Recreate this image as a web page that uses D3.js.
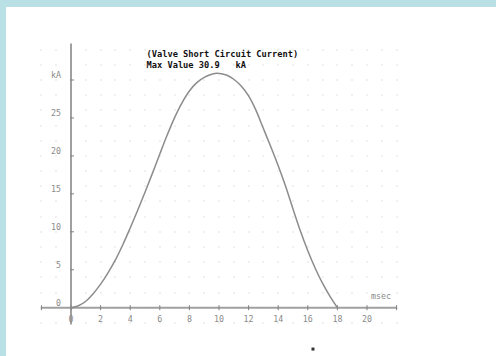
<!DOCTYPE html>
<html>
<head>
<meta charset="utf-8">
<script src="https://cdn.jsdelivr.net/npm/d3@7"></script>
<style>
  body { margin: 0; background: #fff; }
  .tick-text { font-family: "DejaVu Sans Mono", monospace; font-size: 8.3px; fill: #8a8a8a; }
  .title-text { font-family: "DejaVu Sans Mono", monospace; font-size: 8.7px; font-weight: bold; fill: #111; white-space: pre; }
</style>
</head>
<body>
<svg id="chart" width="496" height="356"></svg>
<script>
// current waveform, time in msec, current in kA
var timeMs = [0, 0.5, 1, 1.5, 2, 2.5, 3, 3.5, 4, 4.5, 5, 5.5, 6, 6.5, 7, 7.5, 8, 8.5, 9, 9.5, 9.85, 10.5, 11, 11.5, 12, 12.5, 13, 13.5, 14, 14.5, 15, 15.5, 16, 16.5, 17, 17.5, 18];
var currentKA = [0, 0.25, 0.85, 1.85, 3.1, 4.6, 6.3, 8.3, 10.5, 12.8, 15.2, 17.7, 20.25, 22.75, 25.05, 27.0, 28.55, 29.65, 30.35, 30.75, 30.9, 30.65, 30.1, 29.2, 27.9, 26.0, 23.6, 21.2, 18.7, 16.0, 13.0, 10.1, 7.5, 5.2, 3.2, 1.5, 0];

var xTickValues = [0, 2, 4, 6, 8, 10, 12, 14, 16, 18, 20];
var yTickValues = [0, 5, 10, 15, 20, 25];
var titleLines = ["(Valve Short Circuit Current)", "Max Value 30.9   kA"];

var svg = d3.select('#chart');

// light blue frame on top and left
svg.append('rect').attr('x', 0).attr('y', 0).attr('width', 496).attr('height', 7).attr('fill', '#b9e0e4');
svg.append('rect').attr('x', 0).attr('y', 0).attr('width', 6).attr('height', 356).attr('fill', '#b9e0e4');

var x = d3.scaleLinear().domain([0, 20]).range([71, 367]);
var y = d3.scaleLinear().domain([0, 30]).range([307.7, 80]);

//dotted grid
var gridX = d3.range(-2, 23, 1);
var gridY = d3.range(-2, 35, 2);
var dots = [];
gridX.forEach(function(gx) { gridY.forEach(function(gy) { dots.push([gx, gy]); }); });
svg.append('g')
    .selectAll('rect')
    .data(dots)
    .enter().append('rect')
    .attr('x', function(d) { return Math.round(x(d[0])) - 0.5; })
    .attr('y', function(d) { return Math.round(y(d[1])) - 0.5; })
    .attr('width', 1)
    .attr('height', 1)
    .attr('fill', '#c4c4c4');

//axes lines
svg.append('line')
    .attr('x1', x(-2)).attr('x2', x(22))
    .attr('y1', y(0)).attr('y2', y(0))
    .attr('stroke', '#a0a0a0').attr('stroke-width', 2);
svg.append('line')
    .attr('x1', x(0)).attr('x2', x(0))
    .attr('y1', y(-2.2)).attr('y2', y(34.8))
    .attr('stroke', '#a0a0a0').attr('stroke-width', 2);

//x ticks
svg.append('g')
    .selectAll('line')
    .data(d3.range(-2, 23, 2))
    .enter().append('line')
    .attr('x1', function(d) { return x(d); })
    .attr('x2', function(d) { return x(d); })
    .attr('y1', y(0) - 2.5)
    .attr('y2', y(0) + 2.5)
    .attr('stroke', '#808080').attr('stroke-width', 1);

svg.append('g')
    .selectAll('text')
    .data(xTickValues)
    .enter().append('text')
    .attr('class', 'tick-text')
    .attr('text-anchor', 'middle')
    .attr('x', function(d) { return x(d); })
    .attr('y', y(0) + 14)
    .text(function(d) { return d; });

svg.append('text')
    .attr('class', 'tick-text')
    .attr('text-anchor', 'end')
    .attr('x', 391)
    .attr('y', y(0) - 9)
    .text('msec');

//y ticks
svg.append('g')
    .selectAll('line')
    .data(yTickValues.concat([30]))
    .enter().append('line')
    .attr('x1', x(0) - 1)
    .attr('x2', x(0) + 3)
    .attr('y1', function(d) { return y(d); })
    .attr('y2', function(d) { return y(d); })
    .attr('stroke', '#808080').attr('stroke-width', 1);

svg.append('g')
    .selectAll('text')
    .data(yTickValues.map(String).concat(['kA']))
    .enter().append('text')
    .attr('class', 'tick-text')
    .attr('text-anchor', 'end')
    .attr('x', 61)
    .attr('y', function(d, i) { return y(i * 5) - 2; })
    .text(function(d) { return d; });

//curve
var line = d3.line()
    .x(function(d) { return x(d[0]); })
    .y(function(d) { return y(d[1]); })
    .curve(d3.curveCatmullRom.alpha(0.5));

svg.append('path')
    .datum(d3.zip(timeMs, currentKA))
    .attr('d', line)
    .attr('fill', 'none')
    .attr('stroke', '#8c8c8c')
    .attr('stroke-width', 1.5);

//title
svg.append('g')
    .selectAll('text')
    .data(titleLines)
    .enter().append('text')
    .attr('class', 'title-text')
    .attr('x', 146.5)
    .attr('y', function(d, i) { return 57 + i * 11; })
    .text(function(d) { return d; });

//stray marker below the plot
svg.append('rect')
    .attr('x', x(16.35) - 1.5)
    .attr('y', y(-5.45) - 1.5)
    .attr('width', 3)
    .attr('height', 3)
    .attr('fill', '#333');
</script>
</body>
</html>
